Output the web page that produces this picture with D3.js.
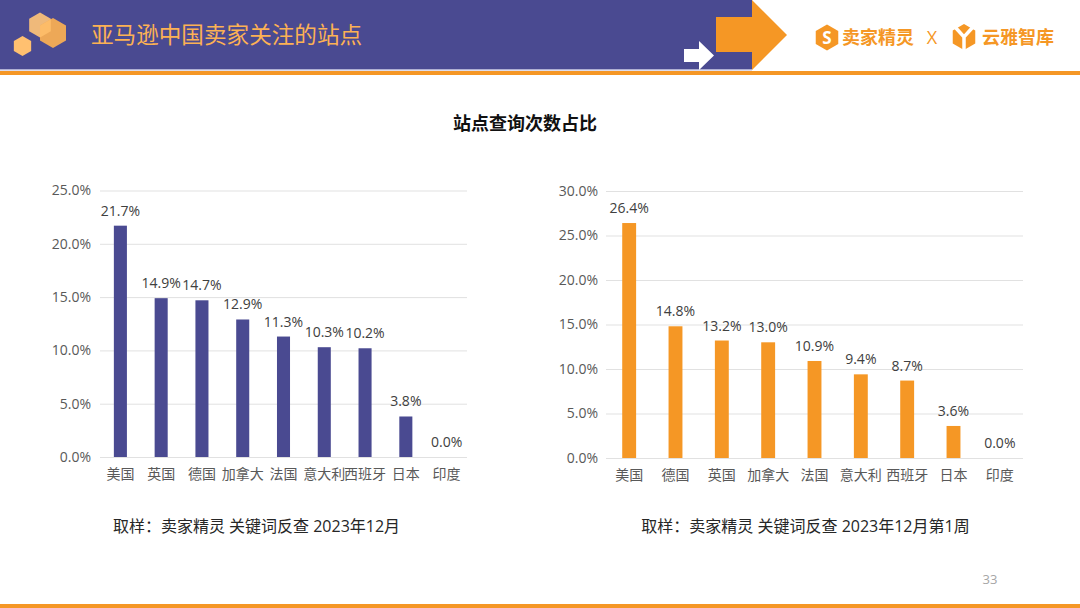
<!DOCTYPE html>
<html><head><meta charset="utf-8">
<script src="https://cdn.jsdelivr.net/npm/d3@7"></script>
<style>html,body{margin:0;padding:0;background:#fff;overflow:hidden}svg{display:block}text{font-family:"Open Sans","Noto Sans CJK SC",sans-serif}</style>
</head><body><svg id="c" width="1080" height="608"></svg>
<script>
const pageTitle="亚马逊中国卖家关注的站点";
const chartTitle="站点查询次数占比";
const leftCats=["美国","英国","德国","加拿大","法国","意大利","西班牙","日本","印度"];
const leftVals=[21.7,14.9,14.7,12.9,11.3,10.3,10.2,3.8,0.0];
const leftTicks=[0,5,10,15,20,25];
const leftNote="取样：卖家精灵 关键词反查 2023年12月";
const rightCats=["美国","德国","英国","加拿大","法国","意大利","西班牙","日本","印度"];
const rightVals=[26.4,14.8,13.2,13.0,10.9,9.4,8.7,3.6,0.0];
const rightTicks=[0,5,10,15,20,25,30];
const rightNote="取样：卖家精灵 关键词反查 2023年12月第1周";
const PURPLE="#4a4a91",ORANGE="#f59725";
const svg=d3.select("#c");
svg.append("rect").attr("width",752).attr("height",69.5).attr("fill",PURPLE);
svg.append("rect").attr("y",69.5).attr("width",752).attr("height",1).attr("fill","#b9b9dc");
svg.append("rect").attr("y",71).attr("width",1080).attr("height",4).attr("fill",ORANGE);
svg.append("rect").attr("y",604).attr("width",1080).attr("height",4).attr("fill",ORANGE);
const hex=(cx,cy,r)=>d3.range(6).map(i=>{const a=Math.PI/3*i+Math.PI/6;return [cx+r*Math.cos(a),cy+r*Math.sin(a)].join(",")}).join(" ");
svg.append("clipPath").attr("id","hc").append("polygon").attr("points",hex(53,33,15));
svg.append("polygon").attr("points",hex(40,25,12.5)).attr("fill","#efb97a");
svg.append("polygon").attr("points",hex(53,33,15)).attr("fill","#eda857");
svg.append("polygon").attr("points",hex(40,25,12.5)).attr("fill","#fdbc68").attr("clip-path","url(#hc)");
svg.append("polygon").attr("points",hex(22.5,46,10)).attr("fill","#ffc070");
svg.append("text").attr("x",91).attr("y",42.5).attr("font-size",22.6).attr("fill","#fcb154").text(pageTitle);
svg.append("polygon").attr("points","716,17 752,17 752,0 787,35 752,70 752,52 716,52").attr("fill",ORANGE);
svg.append("polygon").attr("points","684,49 699,49 699,41 714,55.5 699,70 699,62 684,62").attr("fill","#fff");
// logos
svg.append("polygon").attr("points",hex(827,37.5,13)).attr("fill",ORANGE);
svg.append("text").attr("x",827).attr("y",43.5).attr("text-anchor","middle").attr("font-size",17).attr("font-weight",700).attr("fill","#fff").text("S");
svg.append("text").attr("x",842).attr("y",44).attr("font-size",18).attr("font-weight",700).attr("fill",ORANGE).text("卖家精灵");
svg.append("text").attr("x",932).attr("y",44).attr("text-anchor","middle").attr("font-size",18).attr("fill",ORANGE).text("X");
svg.append("polygon").attr("points",hex(964,37,13)).attr("fill",ORANGE);
svg.append("path").attr("d","M955,27 L964,37 L973,27 M964,37 L964,50").attr("stroke","#fff").attr("stroke-width",3.5).attr("fill","none");
svg.append("text").attr("x",982).attr("y",44).attr("font-size",18).attr("font-weight",700).attr("fill",ORANGE).text("云雅智库");
svg.append("text").attr("x",525).attr("y",130).attr("text-anchor","middle").attr("font-size",18).attr("font-weight",700).attr("fill","#111").text(chartTitle);
svg.append("text").attr("x",990).attr("y",584).attr("text-anchor","middle").attr("font-size",13).attr("fill","#a6a6a6").text("33");
function chart(cats,vals,ticks,opt){
  const x=d3.scaleBand().domain(cats).range([opt.x0,opt.x1]).paddingInner(opt.pad).paddingOuter(opt.pad/2);
  const y=d3.scaleLinear().domain([0,d3.max(ticks)]).range([opt.y0,opt.y1]);
  const g=svg.append("g");
  const ya=g.append("g").attr("transform",`translate(${opt.x0},0)`).call(d3.axisLeft(y).tickValues(ticks).tickSize(-(opt.x1-opt.x0)).tickPadding(opt.tp).tickFormat(d=>d.toFixed(1)+"%"));
  ya.select(".domain").remove();
  ya.selectAll("line").attr("stroke","#e1e1e1");
  ya.selectAll("text").attr("font-size",14).attr("fill","#595959");
  const xa=g.append("g").attr("transform",`translate(0,${opt.y0})`).call(d3.axisBottom(x).tickSize(0).tickPadding(12));
  xa.select(".domain").remove();
  xa.selectAll("text").attr("font-size",14).attr("fill","#595959");
  g.selectAll("rect.b").data(vals).join("rect").attr("class","b")
    .attr("x",(d,i)=>x(cats[i])).attr("width",x.bandwidth()).attr("y",d=>y(d)).attr("height",d=>opt.y0-y(d)).attr("fill",opt.color);
  g.selectAll("text.l").data(vals).join("text").attr("class","l")
    .attr("x",(d,i)=>x(cats[i])+x.bandwidth()/2).attr("y",d=>y(d)-10).attr("text-anchor","middle")
    .attr("font-size",14).attr("fill","#404040").text(d=>d.toFixed(1)+"%");
  svg.append("text").attr("x",opt.noteX).attr("y",532).attr("text-anchor","middle").attr("font-size",16).attr("fill","#262626").text(opt.note);
}
chart(leftCats,leftVals,leftTicks,{x0:100,x1:467,y0:457,y1:190.5,pad:.68,tp:9,color:PURPLE,note:leftNote,noteX:256.5});
chart(rightCats,rightVals,rightTicks,{x0:606,x1:1023,y0:458,y1:191,pad:.7,tp:8,color:ORANGE,note:rightNote,noteX:805.5});
</script></body></html>
